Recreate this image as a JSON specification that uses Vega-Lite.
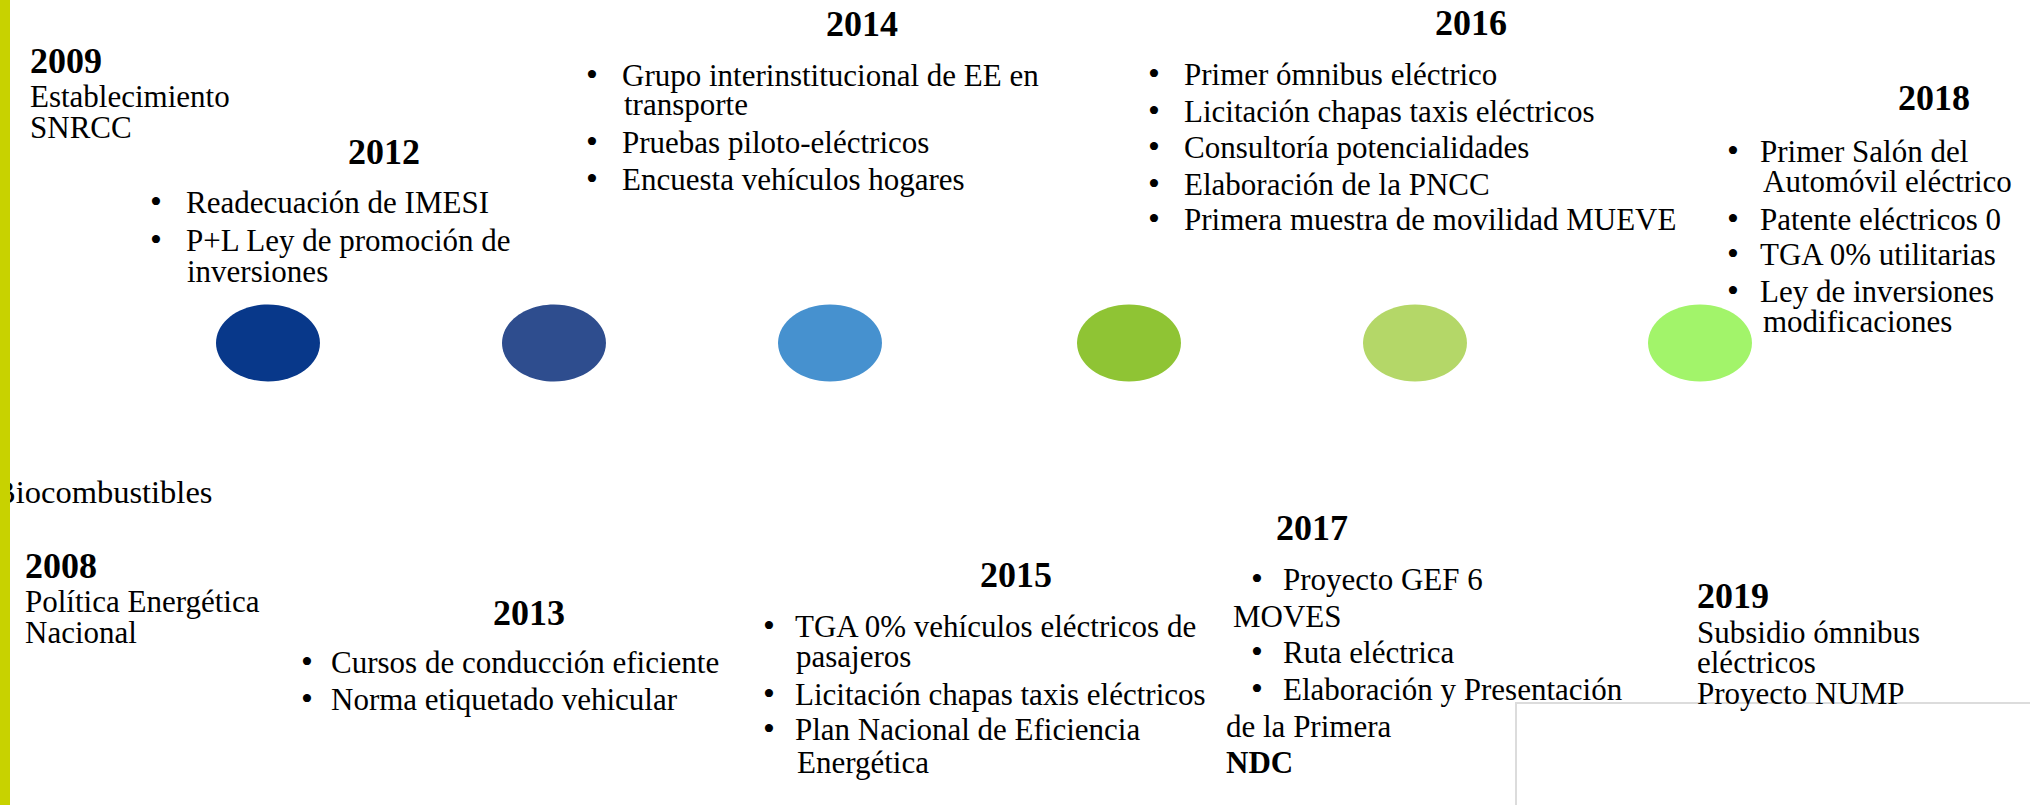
{
  "$schema": "https://vega.github.io/schema/vega-lite/v6.json",
  "width": 2030,
  "height": 805,
  "padding": 0,
  "autosize": {"type": "none"},
  "background": "white",
  "config": {"view": {"stroke": null}},
  "datasets": {
    "bar": [{"x": 0, "x2": 10, "y": -5, "y2": 815}],
    "box": [{"x": 1516, "x2": 2045, "y": 703, "y2": 820}],
    "dots": [
      {"x": 268, "y": 343, "step": "s1"},
      {"x": 554, "y": 343, "step": "s2"},
      {"x": 830, "y": 343, "step": "s3"},
      {"x": 1129, "y": 343, "step": "s4"},
      {"x": 1415, "y": 343, "step": "s5"},
      {"x": 1700, "y": 343, "step": "s6"}
    ],
    "texts": [
      {"kind": "year", "x": 30, "y": 73, "label": "2009"},
      {"kind": "year", "x": 348, "y": 164, "label": "2012"},
      {"kind": "year", "x": 826, "y": 36, "label": "2014"},
      {"kind": "year", "x": 1435, "y": 35, "label": "2016"},
      {"kind": "year", "x": 1898, "y": 110, "label": "2018"},
      {"kind": "year", "x": 25, "y": 578, "label": "2008"},
      {"kind": "year", "x": 493, "y": 625, "label": "2013"},
      {"kind": "year", "x": 980, "y": 587, "label": "2015"},
      {"kind": "year", "x": 1276, "y": 540, "label": "2017"},
      {"kind": "year", "x": 1697, "y": 608, "label": "2019"},

      {"kind": "line", "x": 30, "y": 107, "label": "Establecimiento"},
      {"kind": "line", "x": 30, "y": 138, "label": "SNRCC"},
      {"kind": "line", "x": 186, "y": 213, "label": "Readecuación de IMESI"},
      {"kind": "line", "x": 186, "y": 251, "label": "P+L Ley de promoción de"},
      {"kind": "line", "x": 187, "y": 282, "label": "inversiones"},
      {"kind": "line", "x": 622, "y": 86, "label": "Grupo interinstitucional de EE en"},
      {"kind": "line", "x": 624, "y": 115, "label": "transporte"},
      {"kind": "line", "x": 622, "y": 153, "label": "Pruebas piloto-eléctricos"},
      {"kind": "line", "x": 622, "y": 190, "label": "Encuesta vehículos hogares"},
      {"kind": "line", "x": 1184, "y": 85, "label": "Primer ómnibus eléctrico"},
      {"kind": "line", "x": 1184, "y": 122, "label": "Licitación chapas taxis eléctricos"},
      {"kind": "line", "x": 1184, "y": 158, "label": "Consultoría potencialidades"},
      {"kind": "line", "x": 1184, "y": 195, "label": "Elaboración de la PNCC"},
      {"kind": "line", "x": 1184, "y": 230, "label": "Primera muestra de movilidad MUEVE"},
      {"kind": "line", "x": 1760, "y": 162, "label": "Primer Salón del"},
      {"kind": "line", "x": 1763, "y": 192, "label": "Automóvil eléctrico"},
      {"kind": "line", "x": 1760, "y": 230, "label": "Patente eléctricos 0"},
      {"kind": "line", "x": 1760, "y": 265, "label": "TGA 0% utilitarias"},
      {"kind": "line", "x": 1760, "y": 302, "label": "Ley de inversiones"},
      {"kind": "line", "x": 1763, "y": 332, "label": "modificaciones"},
      {"kind": "line", "x": 25, "y": 612, "label": "Política Energética"},
      {"kind": "line", "x": 25, "y": 643, "label": "Nacional"},
      {"kind": "line", "x": 331, "y": 673, "label": "Cursos de conducción eficiente"},
      {"kind": "line", "x": 331, "y": 710, "label": "Norma etiquetado vehicular"},
      {"kind": "line", "x": 795, "y": 637, "label": "TGA 0% vehículos eléctricos de"},
      {"kind": "line", "x": 796, "y": 667, "label": "pasajeros"},
      {"kind": "line", "x": 795, "y": 705, "label": "Licitación chapas taxis eléctricos"},
      {"kind": "line", "x": 795, "y": 740, "label": "Plan Nacional de Eficiencia"},
      {"kind": "line", "x": 797, "y": 773, "label": "Energética"},
      {"kind": "line", "x": 1283, "y": 590, "label": "Proyecto GEF 6"},
      {"kind": "line", "x": 1233, "y": 627, "label": "MOVES"},
      {"kind": "line", "x": 1283, "y": 663, "label": "Ruta eléctrica"},
      {"kind": "line", "x": 1283, "y": 700, "label": "Elaboración y Presentación"},
      {"kind": "line", "x": 1226, "y": 737, "label": "de la Primera"},
      {"kind": "line", "x": 1697, "y": 643, "label": "Subsidio ómnibus"},
      {"kind": "line", "x": 1697, "y": 673, "label": "eléctricos"},
      {"kind": "line", "x": 1697, "y": 704, "label": "Proyecto NUMP"},

      {"kind": "big", "x": -6, "y": 503, "label": "Biocombustibles"},
      {"kind": "boldline", "x": 1226, "y": 773, "label": "NDC"},

      {"kind": "bullet", "x": 150, "y": 213, "label": "•"},
      {"kind": "bullet", "x": 150, "y": 251, "label": "•"},
      {"kind": "bullet", "x": 586, "y": 86, "label": "•"},
      {"kind": "bullet", "x": 586, "y": 153, "label": "•"},
      {"kind": "bullet", "x": 586, "y": 190, "label": "•"},
      {"kind": "bullet", "x": 1148, "y": 85, "label": "•"},
      {"kind": "bullet", "x": 1148, "y": 122, "label": "•"},
      {"kind": "bullet", "x": 1148, "y": 158, "label": "•"},
      {"kind": "bullet", "x": 1148, "y": 195, "label": "•"},
      {"kind": "bullet", "x": 1148, "y": 230, "label": "•"},
      {"kind": "bullet", "x": 1727, "y": 162, "label": "•"},
      {"kind": "bullet", "x": 1727, "y": 230, "label": "•"},
      {"kind": "bullet", "x": 1727, "y": 265, "label": "•"},
      {"kind": "bullet", "x": 1727, "y": 302, "label": "•"},
      {"kind": "bullet", "x": 301, "y": 673, "label": "•"},
      {"kind": "bullet", "x": 301, "y": 710, "label": "•"},
      {"kind": "bullet", "x": 763, "y": 637, "label": "•"},
      {"kind": "bullet", "x": 763, "y": 705, "label": "•"},
      {"kind": "bullet", "x": 763, "y": 740, "label": "•"},
      {"kind": "bullet", "x": 1251, "y": 590, "label": "•"},
      {"kind": "bullet", "x": 1251, "y": 663, "label": "•"},
      {"kind": "bullet", "x": 1251, "y": 700, "label": "•"}
    ]
  },
  "encoding": {
    "x": {"field": "x", "type": "quantitative", "scale": {"domain": [0, 2030], "nice": false, "zero": false}, "axis": null},
    "y": {"field": "y", "type": "quantitative", "scale": {"domain": [0, 805], "nice": false, "zero": false, "reverse": true}, "axis": null}
  },
  "layer": [
    {
      "data": {"name": "box"},
      "mark": {"type": "rect", "fill": null, "fillOpacity": 0, "stroke": "#dcdcdc", "strokeWidth": 2},
      "encoding": {"x2": {"field": "x2"}, "y2": {"field": "y2"}}
    },
    {
      "data": {"name": "dots"},
      "mark": {"type": "point", "filled": true, "opacity": 1, "shape": "M-1.35,0A1.35,1 0 1,1 1.35,0A1.35,1 0 1,1 -1.35,0Z", "size": 5929},
      "encoding": {
        "color": {"field": "step", "type": "nominal", "legend": null,
          "scale": {"domain": ["s1", "s2", "s3", "s4", "s5", "s6"], "range": ["#08388a", "#2e4d8e", "#4691cf", "#8fc434", "#b4d768", "#a2f46a"]}}
      }
    },
    {
      "data": {"name": "texts"},
      "transform": [{"filter": "datum.kind === 'year'"}],
      "mark": {"type": "text", "font": "Liberation Serif, Times New Roman, serif", "fontSize": 36, "fontWeight": "bold", "align": "left", "baseline": "alphabetic", "color": "black"},
      "encoding": {"text": {"field": "label"}}
    },
    {
      "data": {"name": "texts"},
      "transform": [{"filter": "datum.kind === 'line'"}],
      "mark": {"type": "text", "font": "Liberation Serif, Times New Roman, serif", "fontSize": 31, "align": "left", "baseline": "alphabetic", "color": "black"},
      "encoding": {"text": {"field": "label"}}
    },
    {
      "data": {"name": "texts"},
      "transform": [{"filter": "datum.kind === 'bullet'"}],
      "mark": {"type": "text", "font": "Liberation Serif, Times New Roman, serif", "fontSize": 34, "align": "left", "baseline": "alphabetic", "color": "black"},
      "encoding": {"text": {"field": "label"}}
    },
    {
      "data": {"name": "texts"},
      "transform": [{"filter": "datum.kind === 'big'"}],
      "mark": {"type": "text", "font": "Liberation Serif, Times New Roman, serif", "fontSize": 32.5, "align": "left", "baseline": "alphabetic", "color": "black"},
      "encoding": {"text": {"field": "label"}}
    },
    {
      "data": {"name": "texts"},
      "transform": [{"filter": "datum.kind === 'boldline'"}],
      "mark": {"type": "text", "font": "Liberation Serif, Times New Roman, serif", "fontSize": 31, "fontWeight": "bold", "align": "left", "baseline": "alphabetic", "color": "black"},
      "encoding": {"text": {"field": "label"}}
    },
    {
      "data": {"name": "bar"},
      "mark": {"type": "rect", "color": "#c8d200"},
      "encoding": {"x2": {"field": "x2"}, "y2": {"field": "y2"}}
    }
  ]
}
